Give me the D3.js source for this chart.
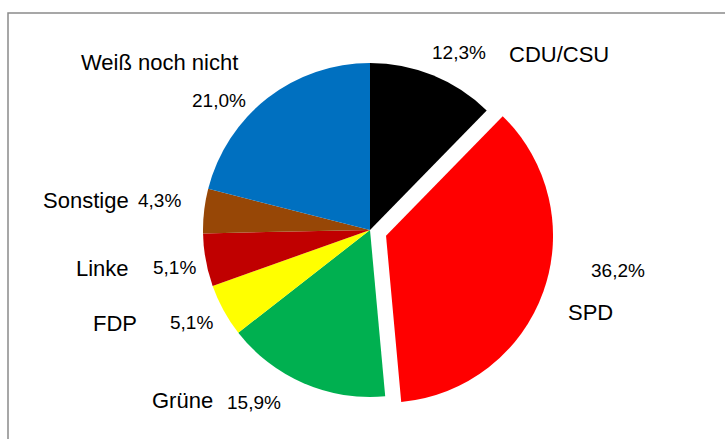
<!DOCTYPE html>
<html>
<head>
<meta charset="utf-8">
<script src="https://cdn.jsdelivr.net/npm/d3@7"></script>
<style>
  body { margin: 0; background: #fff; }
  svg { display: block; }
</style>
</head>
<body>
<div id="chart"></div>
<script>
// parties, clockwise from 12 o'clock
const parties = ["CDU/CSU", "SPD", "Grüne", "FDP", "Linke", "Sonstige", "Weiß noch nicht"];
const shares = [12.3, 36.2, 15.9, 5.1, 5.1, 4.3, 21.0];
const partyColors = ["#000000", "#FF0000", "#00B050", "#FFFF00", "#C00000", "#974706", "#0070C0"];
const exploded = "SPD";

// manual label placement (left x, baseline y) like the original sheet
const namePos = {
  "CDU/CSU": [509, 62],
  "SPD": [568, 320],
  "Grüne": [152, 408],
  "FDP": [93, 331],
  "Linke": [76, 276],
  "Sonstige": [43, 208],
  "Weiß noch nicht": [81, 70]
};
const pctPos = {
  "CDU/CSU": [432, 59],
  "SPD": [591, 277],
  "Grüne": [227, 409],
  "FDP": [170, 329],
  "Linke": [153, 274],
  "Sonstige": [138, 207],
  "Weiß noch nicht": [192, 107]
};

const width = 725, height = 439;
const cx = 370, cy = 230, radius = 167, explode = 17;

const de = d3.formatLocale({decimal: ",", thousands: ".", grouping: [3], currency: ["", " €"]});
const fmt = de.format(".1f");

const data = parties.map((p, i) => ({name: p, value: shares[i], color: partyColors[i]}));

const svg = d3.select("#chart").append("svg")
    .attr("width", width)
    .attr("height", height);

// chart frame (runs off the right and bottom edges)
svg.append("rect")
    .attr("x", 8)
    .attr("y", 13)
    .attr("width", 800)
    .attr("height", 500)
    .attr("fill", "none")
    .attr("stroke", "#8a8a8a")
    .attr("stroke-width", 1.5);

const pie = d3.pie().sort(null).value(d => d.value);
const arc = d3.arc().innerRadius(0).outerRadius(radius);
const arcs = pie(data);

const g = svg.append("g").attr("transform", `translate(${cx},${cy})`);

g.selectAll("path")
  .data(arcs)
  .join("path")
    .attr("d", arc)
    .attr("fill", d => d.data.color)
    .attr("transform", d => {
      if (d.data.name !== exploded) return null;
      const a = (d.startAngle + d.endAngle) / 2;
      return `translate(${Math.sin(a) * explode},${-Math.cos(a) * explode})`;
    });

const labels = svg.append("g")
    .style("font-family", "'Liberation Sans', Arial, sans-serif")
    .attr("fill", "#000");

labels.selectAll("text.name")
  .data(data)
  .join("text")
    .attr("class", "name")
    .attr("x", d => namePos[d.name][0])
    .attr("y", d => namePos[d.name][1])
    .style("font-size", "22px")
    .text(d => d.name);

labels.selectAll("text.pct")
  .data(data)
  .join("text")
    .attr("class", "pct")
    .attr("x", d => pctPos[d.name][0])
    .attr("y", d => pctPos[d.name][1])
    .style("font-size", "19px")
    .text(d => fmt(d.value) + "%");
</script>
</body>
</html>
